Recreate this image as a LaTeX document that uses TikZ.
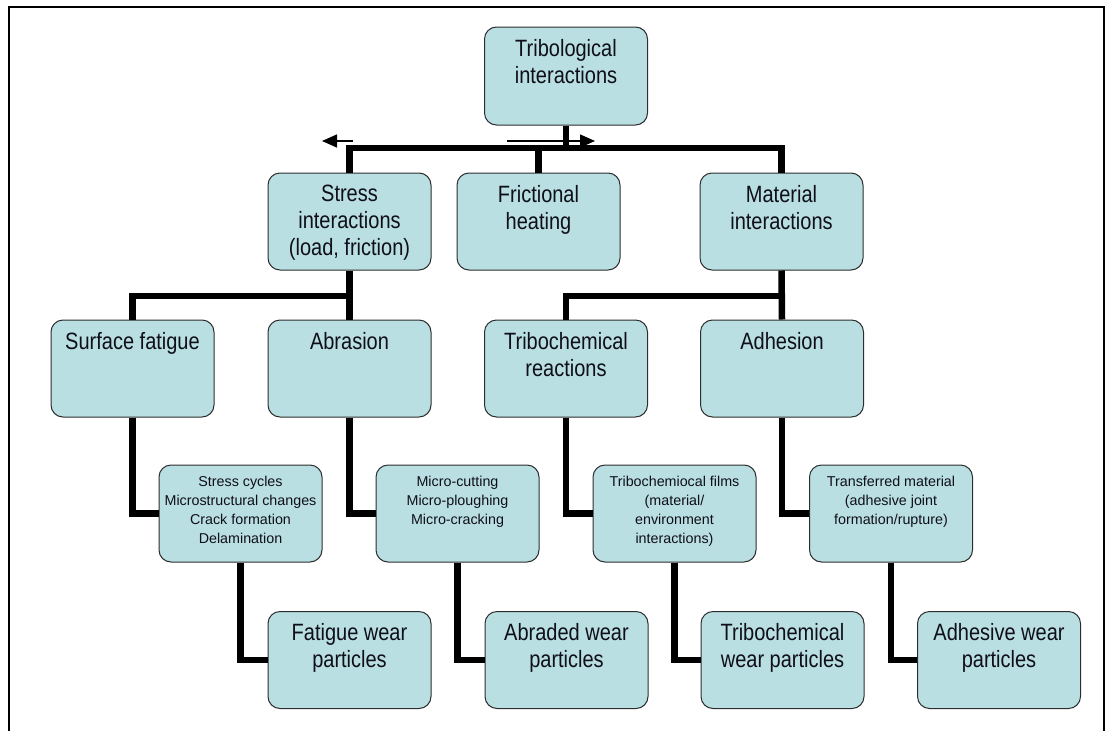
\documentclass[tikz,border=0pt]{standalone}
\usepackage{graphicx}
\usepackage{fontspec}
\setmainfont{Liberation Sans}
\usetikzlibrary{arrows.meta}
\definecolor{boxfill}{RGB}{185,223,226}
\definecolor{boxline}{RGB}{45,45,45}
\definecolor{txt}{RGB}{15,15,25}
\newcommand{\bigt}[1]{\scalebox{1}[1.18]{\parbox[c][61.8pt][t]{152pt}{\centering\fontsize{20}{23}\selectfont #1}}}
\newcommand{\smallt}[1]{\parbox[c][75pt][t]{160pt}{\centering\fontsize{14.3}{19}\selectfont #1}}
\tikzset{
  box/.style={draw=boxline, line width=1pt, fill=boxfill, rounded corners=12pt,
    minimum width=163pt, minimum height=97pt, inner sep=0pt, text=txt},
  conn/.style={line width=6.5pt, black},
  thinarrow/.style={line width=1.4pt, black, -{Triangle[length=15pt,width=13pt]}},
  frame/.style={line width=2.2pt, black}
}
\begin{document}
\begin{tikzpicture}[x=1pt,y=-1pt]
\useasboundingbox (0,0) rectangle (1108,731);
% frame
\coordinate (f1) at (9,731);
\coordinate (f2) at (9,7);
\coordinate (f3) at (1104,7);
\coordinate (f4) at (1104,731);
\draw[frame] (f1) -- (f2) -- (f3) -- (f4);

% nodes
\node[box, minimum height=98pt] (top) at (566,76) {\bigt{Tribological\\interactions}};
\node[box] (stress) at (349.5,221.5) {\bigt{Stress\\interactions\\(load, friction)}};
\node[box] (frict)  at (538.5,221.5) {\bigt{Frictional\\heating}};
\node[box] (mat)    at (781.5,221.5) {\bigt{Material\\interactions}};

\node[box] (surf) at (132.5,368.5) {\bigt{Surface fatigue}};
\node[box] (abr)  at (349.5,368.5) {\bigt{Abrasion}};
\node[box] (trc)  at (566,368.5)   {\bigt{Tribochemical\\reactions}};
\node[box] (adh)  at (782,368.5)   {\bigt{Adhesion}};

\node[box] (s1) at (240.5,513.5) {\smallt{Stress cycles\\Microstructural changes\\Crack formation\\Delamination}};
\node[box] (s2) at (457.5,513.5) {\smallt{Micro-cutting\\Micro-ploughing\\Micro-cracking}};
\node[box] (s3) at (674.5,513.5) {\smallt{Tribochemiocal films\\(material/\\environment\\interactions)}};
\node[box] (s4) at (891,513.5)   {\smallt{Transferred material\\(adhesive joint\\formation/rupture)}};

\node[box] (p1) at (349.5,660) {\bigt{Fatigue wear\\particles}};
\node[box] (p2) at (566.5,660) {\bigt{Abraded wear\\particles}};
\node[box] (p3) at (782.5,660) {\bigt{Tribochemical\\wear particles}};
\node[box] (p4) at (999,660)   {\bigt{Adhesive wear\\particles}};

% bars
\coordinate (b1) at (0,148);
\coordinate (b2) at (0,296);

% level 1
\draw[conn] (stress.north) -- (stress.north |- b1) -- (mat.north |- b1) -- (mat.north);
\draw[conn] (top.south) -- (top.south |- b1);
\draw[conn] (frict.north) -- (frict.north |- b1);

% level 2
\draw[conn] (surf.north) -- (surf.north |- b2) -- (stress.south |- b2);
\draw[conn] (stress.south) -- (abr.north);
\draw[conn] (trc.north) -- (trc.north |- b2) -- (mat.south |- b2);
\draw[conn] (mat.south) -- (adh.north);

% level 3
\draw[conn] (surf.south) |- (s1.west);
\draw[conn] (abr.south) |- (s2.west);
\draw[conn] (trc.south) |- (s3.west);
\draw[conn] (adh.south) |- (s4.west);

% level 4
\draw[conn] (s1.south) |- (p1.west);
\draw[conn] (s2.south) |- (p2.west);
\draw[conn] (s3.south) |- (p3.west);
\draw[conn] (s4.south) |- (p4.west);

% arrows
\coordinate (la1) at (353,141);
\coordinate (la2) at (322,141);
\coordinate (ra1) at (507,141);
\coordinate (ra2) at (595,141);
\draw[thinarrow] (la1) -- (la2);
\draw[thinarrow] (ra1) -- (ra2);
\end{tikzpicture}
\end{document}
